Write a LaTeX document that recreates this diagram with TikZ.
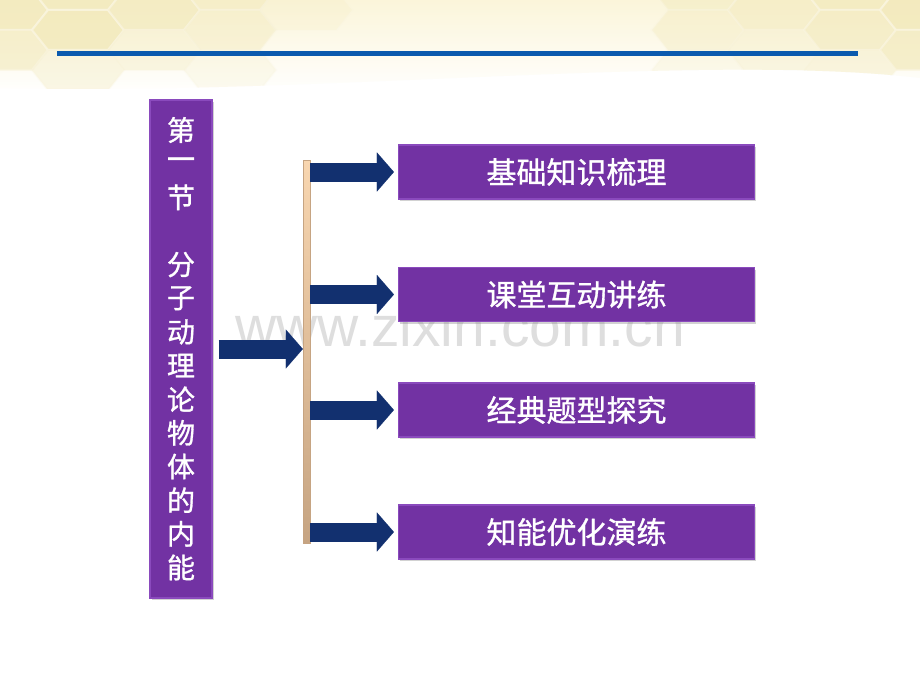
\documentclass[tikz,border=0pt]{standalone}
\usepackage{fontspec}
\setsansfont{Liberation Sans}
\newfontfamily\cjk[FakeBold=1]{Noto Sans CJK SC}
\usetikzlibrary{arrows.meta,shadows}
\definecolor{plum}{HTML}{7232A3}
\definecolor{plumlight}{HTML}{8A4ABD}
\definecolor{navy}{HTML}{12306F}
\definecolor{rule}{HTML}{0B5AAE}
\definecolor{cream}{HTML}{FBF5DA}
\definecolor{hexfill}{HTML}{F2E9BA}
\definecolor{hexline}{HTML}{FAF5DF}
\definecolor{peach}{HTML}{F8D6B0}
\definecolor{tan}{HTML}{C6A482}
\definecolor{mark}{HTML}{DEDEDE}

\begin{document}
\begin{tikzpicture}[x=1pt,y=-1pt,
  every node/.style={font=\cjk\fontsize{30}{30}\selectfont,text=white},
  topicbox/.style={fill=plum,draw=plumlight,line width=1.2pt,minimum width=356pt,minimum height=54pt,
    drop shadow={shadow xshift=1.5pt,shadow yshift=-2pt,opacity=.35}},
  bigarrow/.style={navy,line width=19pt,-{Triangle[length=17pt,width=39pt,line width=.1pt]}},
  hexcell/.style={fill=hexfill,draw=hexline,line width=2pt}]
\useasboundingbox (0,0) rectangle (920,690);
\fill[white] (0,0) rectangle (920,690);
% pale honeycomb band at the top
\begin{scope}
\clip (0,0) -- (920,0) -- (920,78) .. controls (700,52) and (320,96) .. (0,88) -- cycle;
\shade[top color=cream,bottom color=white] (0,0) rectangle (920,96);
\foreach \cx/\cy/\op in {2/10/.8,2/50/.6,78/-10/.8,78/30/.85,78/70/.35,154/10/.7,154/50/.35,
    230/-10/.55,230/30/.45,230/70/.2,306/10/.2,
    698/-10/.45,698/30/.4,698/70/.2,774/10/.55,774/50/.35,
    850/-10/.75,850/30/.65,850/70/.4,926/10/.85,926/50/.7}
  \filldraw[hexcell,fill opacity=\op,draw opacity=\op]
    (\cx-46,\cy) -- (\cx-30,\cy-20) -- (\cx+30,\cy-20) -- (\cx+46,\cy) -- (\cx+30,\cy+20) -- (\cx-30,\cy+20) -- cycle;
\end{scope}
\fill[rule] (57,51.5) rectangle (858,56);
% watermark
\node[font=\sffamily\fontsize{57}{57}\selectfont,text=mark,anchor=base,inner sep=0pt,text height=31pt] (wm) at (460,346) {www.zixin.com.cn};
% section title
\node[fill=plum,draw=plumlight,line width=1.2pt,minimum width=62pt,minimum height=498pt,
  drop shadow={shadow xshift=1.5pt,shadow yshift=-2pt,opacity=.35}] (title) at (181,349) {};
\foreach \ch [count=\k from 0] in {第,一,节,{},分,子,动,理,论,物,体,的,内,能}
  \node[font=\cjk\fontsize{28}{28}\selectfont] (t\k) at (181,130+33.65*\k) {\ch};
\node[minimum width=7pt,minimum height=383pt,inner sep=0pt,top color=peach,bottom color=tan,draw=tan] (bar) at (306.5,351.5) {};
\draw[bigarrow,shorten <=6pt] (title.east) -- (title.east -| bar.west);
\node[topicbox] (b1) at (576.5,172) {基础知识梳理};
\node[topicbox] (b2) at (576.5,294.5) {课堂互动讲练};
\node[topicbox] (b3) at (576.5,410) {经典题型探究};
\node[topicbox] (b4) at (576.5,532) {知能优化演练};
\foreach \b in {b1,b2,b3,b4}
  \draw[bigarrow,shorten >=4pt] (bar.east |- \b.west) -- (\b.west);
\end{tikzpicture}
\end{document}
